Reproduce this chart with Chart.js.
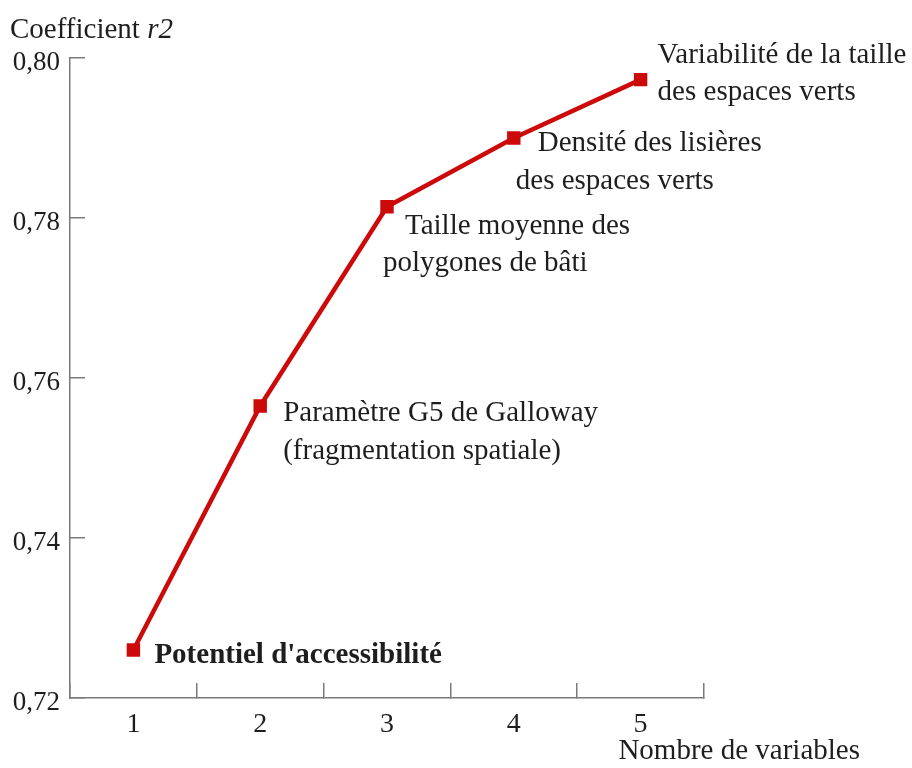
<!DOCTYPE html>
<html>
<head>
<meta charset="utf-8">
<script src="https://cdn.jsdelivr.net/npm/chart.js@4/dist/chart.umd.min.js"></script>
<style>
  html,body{margin:0;padding:0;background:#fff;}
  #wrap{width:912px;height:768px;position:relative;}
</style>
</head>
<body>
<div id="wrap"><canvas id="c"></canvas></div>
<script>
// r2 gained as variables are added to the model
const NB_VARIABLES = ['1','2','3','4','5'];
const R2 = [0.726, 0.7565, 0.7814, 0.790, 0.7973];
const POINT_LABELS = [
  ["Potentiel d'accessibilité"],
  ['Paramètre G5 de Galloway','(fragmentation spatiale)'],
  ['Taille moyenne des','polygones de bâti'],
  ['Densité des lisières','des espaces verts'],
  ['Variabilité de la taille','des espaces verts']
];
const Y_MIN = 0.72, Y_MAX = 0.80, Y_STEP = 0.02;

const RED = '#cc0a0a', AXIS = '#7a7a7a', INK = '#1e1e1e';
const FONT = "'Liberation Serif','Times New Roman',serif";
// label offsets from each point, [dx,dy] per line
const LABEL_POS = [
  [[21,6]],
  [[23,7],[23,45]],
  [[18,20],[-4,57]],
  [[24,5],[2,43]],
  [[17,-24],[17,13]]
];

const labelsPlugin = {
  id:'labels',
  afterDatasetsDraw(chart){
    const ctx = chart.ctx, pts = chart.getDatasetMeta(0).data, ca = chart.chartArea;
    ctx.save();
    ctx.fillStyle = INK;
    ctx.textBaseline = 'middle';
    ctx.textAlign = 'left';
    pts.forEach((p,i)=>{
      ctx.font = (i===0?'bold ':'') + '29px ' + FONT;
      POINT_LABELS[i].forEach((t,j)=>{
        const o = LABEL_POS[i][j];
        ctx.fillText(t, p.x + o[0], p.y + o[1]);
      });
    });
    // axis titles
    ctx.textBaseline = 'alphabetic';
    ctx.font = '29px ' + FONT;
    const a = 'Coefficient ';
    ctx.fillText(a, 10, ca.top - 20);
    const w = ctx.measureText(a).width;
    ctx.font = 'italic 29px ' + FONT;
    ctx.fillText('r2', 10 + w, ca.top - 20);
    ctx.font = '29px ' + FONT;
    ctx.textAlign = 'right';
    ctx.fillText('Nombre de variables', ca.right + 156, ca.bottom + 61);
    ctx.restore();
  }
};

new Chart(document.getElementById('c'), {
  type:'line',
  data:{labels:NB_VARIABLES, datasets:[{
    data:R2, borderColor:RED, backgroundColor:RED, borderWidth:4.5, tension:0,
    pointStyle:'rect', pointRadius:9.5, pointBorderWidth:0, pointBackgroundColor:RED
  }]},
  options:{
    animation:false, responsive:true, maintainAspectRatio:false,
    layout:{padding:{left:0, right:208, top:58, bottom:0}},
    plugins:{legend:{display:false}, tooltip:{enabled:false}},
    scales:{
      x:{
        offset:true,
        grid:{display:true, drawOnChartArea:false, offset:true, tickLength:-15, color:AXIS, lineWidth:1.5},
        border:{color:AXIS, width:1.5},
        ticks:{color:INK, padding:25, font:{family:FONT, size:28}},
        afterFit(s){ s.height = 70; }
      },
      y:{
        min:Y_MIN, max:Y_MAX,
        grid:{drawOnChartArea:false, tickLength:-15, color:AXIS, lineWidth:1.5},
        border:{color:AXIS, width:1.5},
        ticks:{stepSize:Y_STEP, color:INK, padding:25, labelOffset:5, font:{family:FONT, size:27},
          callback:v=>v.toFixed(2).replace('.',',')},
        afterFit(s){ s.width = 70; }
      }
    }
  },
  plugins:[labelsPlugin]
});
</script>
</body>
</html>
